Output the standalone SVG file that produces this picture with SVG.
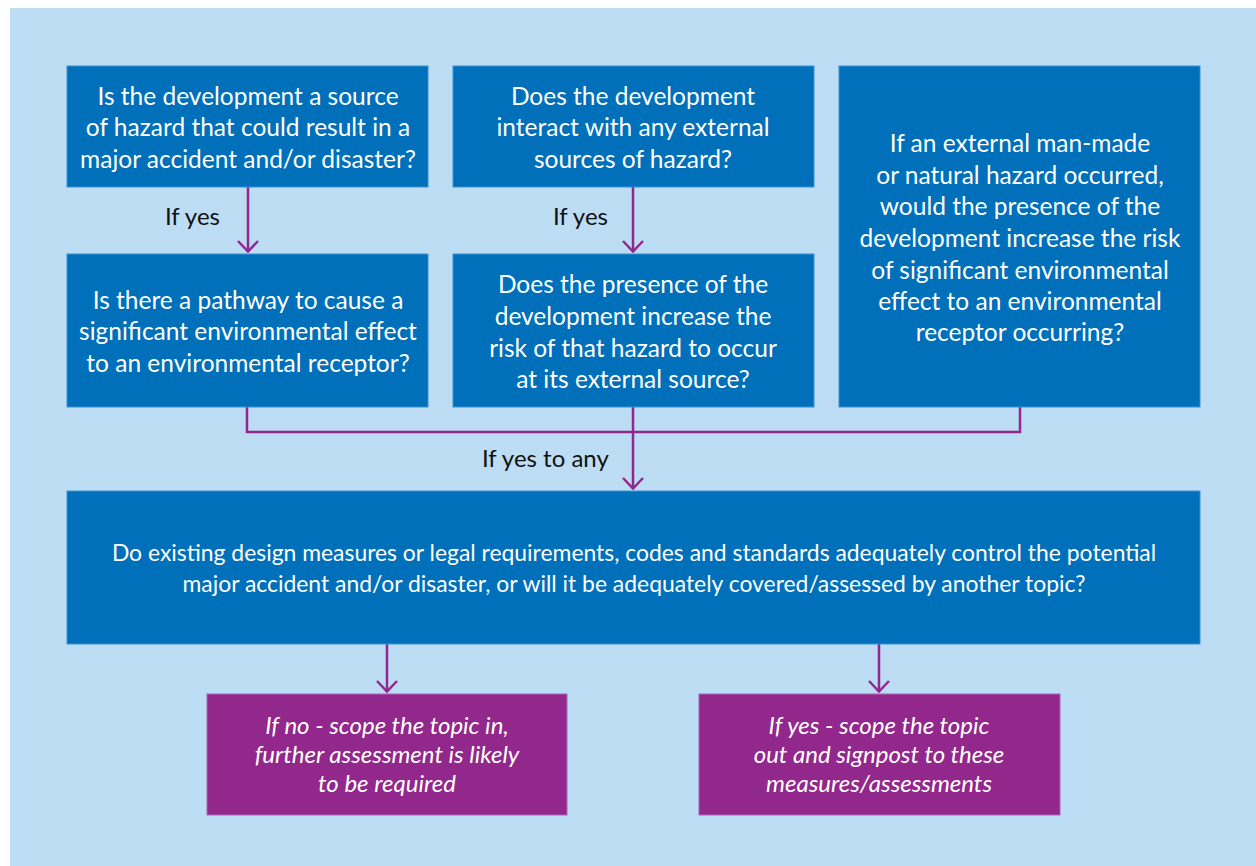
<svg xmlns="http://www.w3.org/2000/svg" width="1256" height="866" viewBox="0 0 1256 866">
  <style>
    .q { fill: #0070BA; stroke: #3C8FCF; stroke-width: 1; }
    .o { fill: #92278C; stroke: #A965B5; stroke-width: 1; }
    .t { font-family: Lato, "Liberation Sans", sans-serif; font-size: 24.5px; fill: #FFFFFF; text-anchor: middle; }
    .tw { font-family: Lato, "Liberation Sans", sans-serif; font-size: 22.9px; fill: #FFFFFF; text-anchor: middle; }
    .ti { font-family: Lato, "Liberation Sans", sans-serif; font-size: 24px; font-style: italic; fill: #FFFFFF; text-anchor: middle; }
    .lbl { font-family: Lato, "Liberation Sans", sans-serif; font-size: 24px; fill: #111111; }
    .ln { fill: none; stroke: #93278F; stroke-width: 2.5; }
  </style>
  <defs>
    <!-- open chevron head, drawn along +x so orient="auto" follows the line -->
    <marker id="chev" viewBox="0 0 13 22" refX="12" refY="11" markerWidth="13" markerHeight="22" markerUnits="userSpaceOnUse" orient="auto">
      <path d="M1,1 L11.5,11 L1,21" fill="none" stroke="#93278F" stroke-width="2.5"/>
    </marker>
  </defs>

  <!-- background panel -->
  <rect x="10" y="8" width="1246" height="858" fill="#BCDDF4"/>

  <!-- connectors -->
  <g id="connectors">
    <line class="ln" x1="248" y1="187" x2="248" y2="252" marker-end="url(#chev)"/>
    <line class="ln" x1="633" y1="187" x2="633" y2="252" marker-end="url(#chev)"/>
    <polyline class="ln" points="247,407 247,432 1020,432 1020,407"/>
    <line class="ln" x1="633" y1="407" x2="633" y2="489" marker-end="url(#chev)"/>
    <line class="ln" x1="387" y1="644" x2="387" y2="692" marker-end="url(#chev)"/>
    <line class="ln" x1="879" y1="644" x2="879" y2="692" marker-end="url(#chev)"/>
    <text class="lbl" x="165" y="225">If yes</text>
    <text class="lbl" x="553" y="225">If yes</text>
    <text class="lbl" x="482" y="467">If yes to any</text>
  </g>

  <g id="source-hazard">
    <rect class="q" x="67" y="66" width="361" height="121"/>
    <text class="t" x="248" y="105">Is the development a source</text>
    <text class="t" x="248" y="136">of hazard that could result in a</text>
    <text class="t" x="248" y="168">major accident and/or disaster?</text>
  </g>

  <g id="external-interaction">
    <rect class="q" x="453" y="66" width="361" height="121"/>
    <text class="t" x="633" y="105">Does the development</text>
    <text class="t" x="633" y="136">interact with any external</text>
    <text class="t" x="633" y="168">sources of hazard?</text>
  </g>

  <g id="external-event">
    <rect class="q" x="839" y="66" width="361" height="341"/>
    <text class="t" x="1020" y="152">If an external man-made</text>
    <text class="t" x="1020" y="184">or natural hazard occurred,</text>
    <text class="t" x="1020" y="215">would the presence of the</text>
    <text class="t" x="1020" y="247">development increase the risk</text>
    <text class="t" x="1020" y="279">of significant environmental</text>
    <text class="t" x="1020" y="310">effect to an environmental</text>
    <text class="t" x="1020" y="341">receptor occurring?</text>
  </g>

  <g id="pathway">
    <rect class="q" x="67" y="254" width="361" height="153"/>
    <text class="t" x="248" y="309">Is there a pathway to cause a</text>
    <text class="t" x="248" y="340">significant environmental effect</text>
    <text class="t" x="248" y="372">to an environmental receptor?</text>
  </g>

  <g id="increase-risk">
    <rect class="q" x="453" y="254" width="361" height="153"/>
    <text class="t" x="633" y="293">Does the presence of the</text>
    <text class="t" x="633" y="325">development increase the</text>
    <text class="t" x="633" y="357">risk of that hazard to occur</text>
    <text class="t" x="633" y="388">at its external source?</text>
  </g>

  <g id="controls">
    <rect class="q" x="67" y="491" width="1133" height="153"/>
    <text class="tw" x="634" y="561">Do existing design measures or legal requirements, codes and standards adequately control the potential</text>
    <text class="tw" x="634" y="592">major accident and/or disaster, or will it be adequately covered/assessed by another topic?</text>
  </g>

  <g id="scope-in">
    <rect class="o" x="207" y="694" width="360" height="121"/>
    <text class="ti" x="387" y="734">If no - scope the topic in,</text>
    <text class="ti" x="387" y="763">further assessment is likely</text>
    <text class="ti" x="387" y="792">to be required</text>
  </g>

  <g id="scope-out">
    <rect class="o" x="699" y="694" width="361" height="121"/>
    <text class="ti" x="879" y="734">If yes - scope the topic</text>
    <text class="ti" x="879" y="763">out and signpost to these</text>
    <text class="ti" x="879" y="792">measures/assessments</text>
  </g>
</svg>
